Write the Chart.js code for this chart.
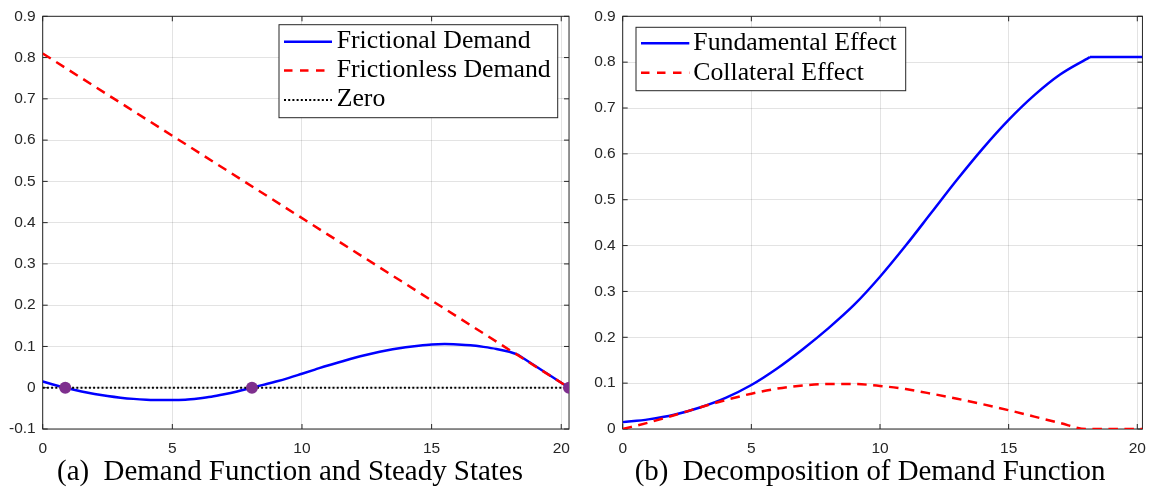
<!DOCTYPE html>
<html><head><meta charset="utf-8">
<script src="https://cdn.jsdelivr.net/npm/chart.js@4.4.1/dist/chart.umd.min.js"></script>
<style>
html,body{margin:0;padding:0;background:#fff;}
#wrap{position:relative;width:1156px;height:491px;overflow:hidden;background:#fff;}
#cA{position:absolute;left:0;top:0;}
#cB{position:absolute;left:580px;top:0;}
.cap{position:absolute;width:600px;text-align:center;font-family:"Liberation Serif",serif;white-space:nowrap;color:#000;line-height:1;}
</style></head>
<body>
<div id="wrap">
<canvas id="cA" width="580" height="491"></canvas>
<canvas id="cB" width="576" height="491"></canvas>
<div id="capA" class="cap"></div>
<div id="capB" class="cap"></div>
</div>
<script>
// ---------- data ----------
const xTicks = [0, 5, 10, 15, 20];
const yTicksA = [-0.1, 0, 0.1, 0.2, 0.3, 0.4, 0.5, 0.6, 0.7, 0.8, 0.9];
const yTicksB = [0, 0.1, 0.2, 0.3, 0.4, 0.5, 0.6, 0.7, 0.8, 0.9];

// (a) Frictional demand (smooth part, then straight tail)
const fricX = [0,0.5,1,1.5,2,2.5,3,3.5,4,4.5,5,5.5,6,6.5,7,7.5,8,8.5,9,9.5,10,10.5,11,11.5,12,12.5,13,13.5,14,14.5,15,15.5,16,16.5,17,17.5,18,18.3];
const fricY = [0.015,0.006,-0.002,-0.009,-0.015,-0.020,-0.024,-0.027,-0.029,-0.030,-0.030,-0.029,-0.026,-0.022,-0.016,-0.009,-0.001,0.007,0.015,0.024,0.034,0.044,0.054,0.063,0.072,0.080,0.087,0.093,0.098,0.102,0.105,0.106,0.105,0.103,0.099,0.094,0.087,0.081];
const fricTailX = [18.3, 20.3];
const fricTailY = [0.081, 0];
// (a) Frictionless demand
const flessX = [0, 20.3];
const flessY = [0.81, 0];
// (a) Zero line
const zeroX = [0, 20.3];
const zeroY = [0, 0];
// (a) Steady states
const ssX = [0.87, 8.07, 20.3];
const ssY = [0, 0, 0];

// (b) Fundamental effect
const fundX = [0,1,2,3,4,5,6,7,8,9,10,11,12,13,14,15,16,17,18,18.16];
const fundY = [0.015,0.021,0.031,0.047,0.068,0.096,0.132,0.174,0.220,0.271,0.332,0.400,0.472,0.544,0.612,0.674,0.728,0.773,0.806,0.811];
const fundTailX = [18.16, 20.2];
const fundTailY = [0.811, 0.811];
// (b) Collateral effect
const collX = [0,1,2,3,4,5,6,7,8,9,10,11,12,13,14,15,16,17,18,20.2];
const collY = [0,0.014,0.030,0.047,0.063,0.077,0.088,0.095,0.098,0.098,0.094,0.087,0.077,0.066,0.054,0.041,0.027,0.013,0,0];

const legendA = ['Frictional Demand', 'Frictionless Demand', 'Zero'];
const legendB = ['Fundamental Effect', 'Collateral Effect'];
const captionA = '(a)\u2002Demand Function and Steady States';
const captionB = '(b)\u2002Decomposition of Demand Function';

// ---------- helpers ----------
const pts = (xs, ys) => xs.map((x, i) => ({x: x, y: ys[i]}));
const BLUE = '#0000ff', RED = '#ff0000', PURPLE = '#7e2f8e', AX = '#262626';
const SERIF = '"Liberation Serif", serif';

const mctx = document.createElement('canvas').getContext('2d');
function fitSize(text, target, family) {
  mctx.font = '100px ' + family;
  return 100 * target / mctx.measureText(text).width;
}
const legendFont = fitSize('Frictionless Demand', 214, SERIF);

const matlabAxes = {
  id: 'matlabAxes',
  beforeDatasetsDraw(chart) {
    const {ctx, chartArea: a, scales: {x, y}} = chart;
    ctx.save();
    ctx.strokeStyle = AX;
    ctx.lineWidth = 1;
    ctx.beginPath();
    x.ticks.forEach(t => {
      const px = x.getPixelForValue(t.value);
      ctx.moveTo(px, a.bottom); ctx.lineTo(px, a.bottom - 5);
      ctx.moveTo(px, a.top); ctx.lineTo(px, a.top + 5);
    });
    y.ticks.forEach(t => {
      const py = y.getPixelForValue(t.value);
      ctx.moveTo(a.left, py); ctx.lineTo(a.left + 5, py);
      ctx.moveTo(a.right, py); ctx.lineTo(a.right - 5, py);
    });
    ctx.stroke();
    ctx.strokeRect(a.left, a.top, a.right - a.left, a.bottom - a.top);
    ctx.restore();
  }
};

const boxLegend = {
  id: 'boxLegend',
  afterDraw(chart, args, opts) {
    if (!opts || !opts.items) return;
    const ctx = chart.ctx;
    const [bx, by, bw, bh] = opts.box;
    ctx.save();
    ctx.fillStyle = '#fff';
    ctx.fillRect(bx, by, bw, bh);
    ctx.strokeStyle = AX;
    ctx.lineWidth = 1;
    ctx.strokeRect(bx, by, bw, bh);
    opts.items.forEach(it => {
      ctx.beginPath();
      ctx.strokeStyle = it.color;
      ctx.lineWidth = it.width;
      ctx.setLineDash(it.dash || []);
      ctx.moveTo(opts.x0, it.ly);
      ctx.lineTo(opts.x1, it.ly);
      ctx.stroke();
      ctx.setLineDash([]);
      ctx.fillStyle = '#000';
      ctx.font = legendFont.toFixed(2) + 'px ' + SERIF;
      ctx.textBaseline = 'alphabetic';
      ctx.textAlign = 'left';
      ctx.fillText(it.label, opts.tx, it.ty);
    });
    ctx.restore();
  }
};

function yFmt(v) {
  const r = Math.round(v * 10) / 10;
  return r === 0 ? '0' : r.toFixed(1);
}

function makeScales(xmax, ymin, yticks, yw, xh) {
  return {
    x: {
      type: 'linear', min: 0, max: xmax,
      afterBuildTicks: s => { s.ticks = xTicks.map(v => ({value: v})); },
      afterFit: s => { s.height = xh; },
      grid: {color: 'rgba(38,38,38,0.13)', lineWidth: 1, drawTicks: false},
      border: {display: false},
      ticks: {padding: 10, color: AX, font: {family: 'Liberation Sans', size: 15.5}, maxRotation: 0, autoSkip: false}
    },
    y: {
      type: 'linear', min: ymin, max: 0.9,
      afterBuildTicks: s => { s.ticks = yticks.map(v => ({value: v})); },
      afterFit: s => { s.width = yw; },
      grid: {color: 'rgba(38,38,38,0.13)', lineWidth: 1, drawTicks: false},
      border: {display: false},
      ticks: {padding: 7, color: AX, font: {family: 'Liberation Sans', size: 15.5}, callback: yFmt, autoSkip: false}
    }
  };
}

const lineDs = (data, color, width, dash, order, extra) => Object.assign({
  data: data, showLine: true, borderColor: color, backgroundColor: color,
  borderWidth: width, borderDash: dash, pointRadius: 0, fill: false,
  order: order, cubicInterpolationMode: 'monotone'
}, extra || {});

// ---------- chart (a) ----------
new Chart(document.getElementById('cA'), {
  type: 'scatter',
  data: {
    datasets: [
      lineDs(pts(ssX, ssY), PURPLE, 0, [], 0, {showLine: false, pointRadius: 6, pointBackgroundColor: PURPLE, pointBorderWidth: 0}),
      lineDs(pts(zeroX, zeroY), '#000', 2.2, [2, 2.2], 1),
      lineDs(pts(flessX, flessY), RED, 2.5, [9.5, 6.5], 2),
      lineDs(pts(fricTailX, fricTailY), BLUE, 2.5, [], 3),
      lineDs(pts(fricX, fricY), BLUE, 2.5, [], 3)
    ]
  },
  options: {
    responsive: false, animation: false, events: [],
    layout: {padding: {left: 0, top: 12, right: 9, bottom: 0}},
    scales: makeScales(20.3, -0.1, yTicksA, 42.7, 62),
    plugins: {
      legend: {display: false}, tooltip: {enabled: false},
      boxLegend: {
        box: [279, 24.7, 278.7, 93],
        x0: 284, x1: 332, tx: 336.7,
        items: [
          {label: legendA[0], color: BLUE, width: 2.5, dash: [], ly: 41.7, ty: 47.5},
          {label: legendA[1], color: RED, width: 2.5, dash: [8.5, 7.5], ly: 70.5, ty: 76.5},
          {label: legendA[2], color: '#000', width: 2.2, dash: [2, 2.2], ly: 100, ty: 106}
        ]
      }
    }
  },
  plugins: [matlabAxes, boxLegend]
});

// ---------- chart (b) ----------
new Chart(document.getElementById('cB'), {
  type: 'scatter',
  data: {
    datasets: [
      lineDs(pts(collX, collY), RED, 2.5, [9.5, 6.5], 1),
      lineDs(pts(fundTailX, fundTailY), BLUE, 2.5, [], 2),
      lineDs(pts(fundX, fundY), BLUE, 2.5, [], 2)
    ]
  },
  options: {
    responsive: false, animation: false, events: [],
    layout: {padding: {left: 0, top: 14.7, right: 8, bottom: 0}},
    scales: makeScales(20.2, 0, yTicksB, 42.7, 62),
    plugins: {
      legend: {display: false}, tooltip: {enabled: false},
      boxLegend: {
        box: [56, 27.3, 269.7, 63.4],
        x0: 61, x1: 109.3, tx: 113.3,
        items: [
          {label: legendB[0], color: BLUE, width: 2.5, dash: [], ly: 43.3, ty: 50},
          {label: legendB[1], color: RED, width: 2.5, dash: [8.5, 7.5], ly: 72.7, ty: 79.5}
        ]
      }
    }
  },
  plugins: [matlabAxes, boxLegend]
});

// ---------- captions ----------
function placeCaption(id, text, center, width, baseline) {
  const el = document.getElementById(id);
  const fs = fitSize(text, width, SERIF);
  el.textContent = text;
  el.style.fontSize = fs.toFixed(2) + 'px';
  el.style.left = (center - 300) + 'px';
  // baseline offset for line-height 1 in Liberation Serif
  el.style.top = (baseline - 0.8375 * fs).toFixed(1) + 'px';
}
placeCaption('capA', captionA, 290, 466, 480);
placeCaption('capB', captionB, 870, 471, 480);
</script>
</body></html>
